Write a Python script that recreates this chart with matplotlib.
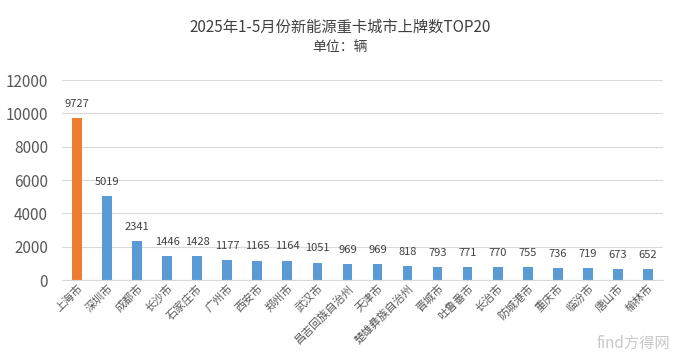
import matplotlib.pyplot as plt
import numpy as np

plt.rcParams['font.family'] = ['Noto Sans CJK SC', 'DejaVu Sans']

cities = ['上海市', '深圳市', '成都市', '长沙市', '石家庄市', '广州市', '西安市', '郑州市',
          '武汉市', '昌吉回族自治州', '天津市', '楚雄彝族自治州', '晋城市', '吐鲁番市',
          '长治市', '防城港市', '重庆市', '临汾市', '唐山市', '榆林市']
counts = [9727, 5019, 2341, 1446, 1428, 1177, 1165, 1164, 1051, 969, 969, 818,
          793, 771, 770, 755, 736, 719, 673, 652]
yticks = [0, 2000, 4000, 6000, 8000, 10000, 12000]

fig = plt.figure(figsize=(6.8, 3.59), dpi=100)
ax = fig.add_axes([0.091, 0.22, 0.884, 0.557])

x = np.arange(len(cities))
colors = ['#ED7D31'] + ['#5B9BD5'] * (len(cities) - 1)
ax.bar(x, counts, width=0.32, color=colors, zorder=2)

for xi, v in zip(x, counts):
    ax.text(xi, v + 550, str(v), ha='center', va='bottom', fontsize=8, color='#404040')

ax.set_xlim(-0.5, len(cities) - 0.5)
ax.set_ylim(0, 12000)
ax.set_yticks(yticks)
ax.set_yticklabels([str(t) for t in yticks], fontsize=11, color='#595959')
ax.yaxis.grid(True, color='#D9D9D9', linewidth=0.8, zorder=0)
ax.tick_params(axis='y', length=0, pad=10)
ax.tick_params(axis='x', length=0, pad=2)
ax.set_xticks(x)
ax.set_xticklabels(cities, rotation=45, ha='right', va='top', rotation_mode='anchor',
                   fontsize=8, color='#595959')
for s in ['top', 'right', 'left']:
    ax.spines[s].set_visible(False)
ax.spines['bottom'].set_color('#D9D9D9')

fig.text(0.5, 0.925, '2025年1-5月份新能源重卡城市上牌数TOP20', ha='center', va='center',
         fontsize=11, color='#404040')
fig.text(0.5, 0.868, '单位：辆', ha='center', va='center', fontsize=10, color='#404040')

fig.text(0.985, 0.02, 'find方得网', ha='right', va='bottom', fontsize=11, color='#C8C8C8')

fig.savefig('out.png', dpi=100)
